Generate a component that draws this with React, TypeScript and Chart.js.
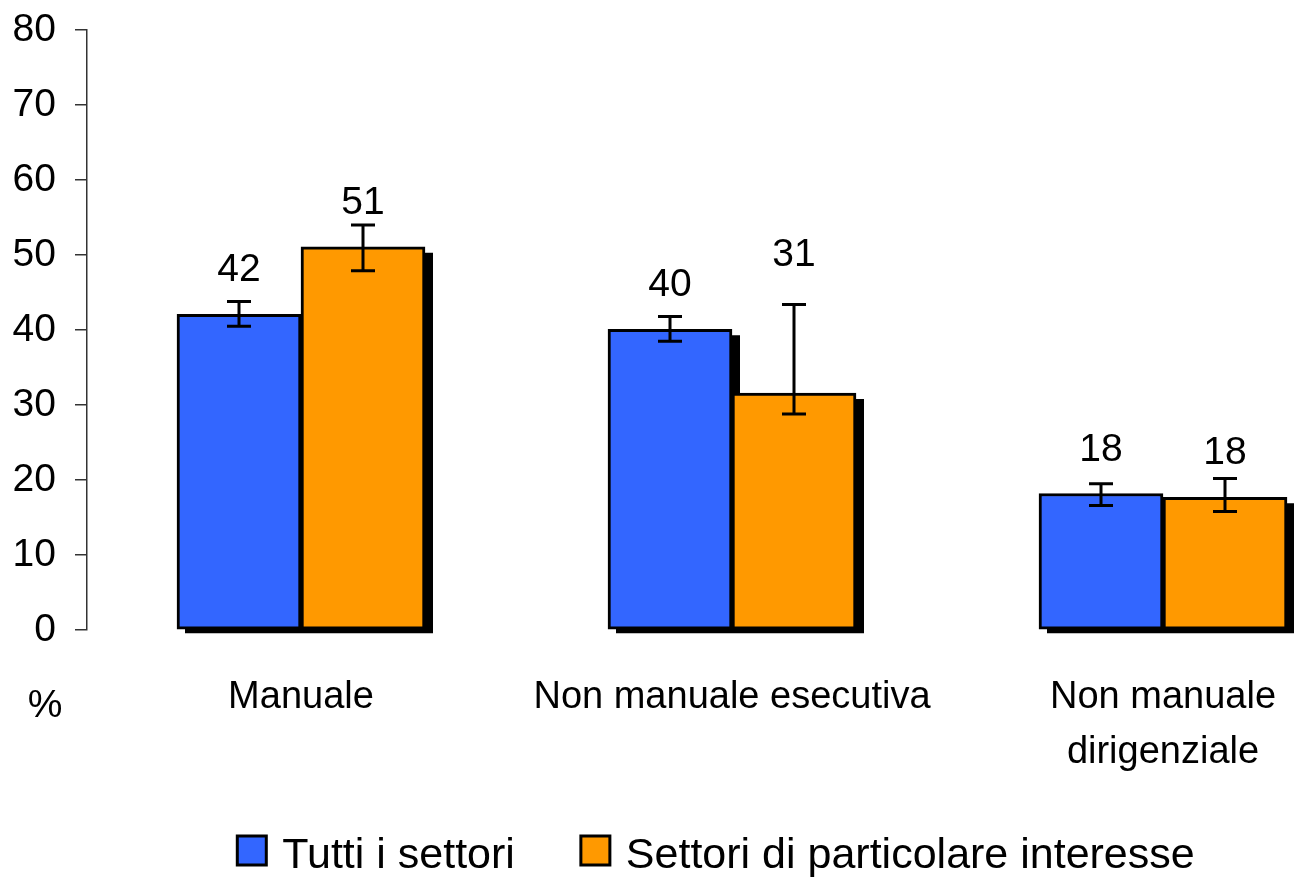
import React, { useEffect, useRef } from "react";
import { Chart, registerables } from "chart.js";

Chart.register(...registerables);

// ---------- data ----------
const categories: string[][] = [["Manuale"], ["Non manuale esecutiva"], ["Non manuale", "dirigenziale"]];
const seriesNames = ["Tutti i settori", "Settori di particolare interesse"];
const seriesColors = ["#3366FF", "#FF9900"];
const tuttiValues = [42.1, 40.1, 18.2];
const settoriValues = [51.1, 31.6, 17.7];
const tuttiLow = [40.5, 38.5, 16.6];
const tuttiHigh = [43.8, 41.8, 19.5];
const settoriLow = [47.9, 28.8, 15.8];
const settoriHigh = [54.0, 43.4, 20.2];
const tuttiLabels = ["42", "40", "18"];
const settoriLabels = ["51", "31", "18"];
const yTickValues = [0, 10, 20, 30, 40, 50, 60, 70, 80];
const yUnit = "%";

const FONT = "'Liberation Sans', Arial, sans-serif";

export default function App() {
  const ref = useRef<HTMLCanvasElement | null>(null);

  useEffect(() => {
    if (!ref.current) return;
    const lows = [tuttiLow, settoriLow];
    const highs = [tuttiHigh, settoriHigh];
    const labels = [tuttiLabels, settoriLabels];

    const shadowPlugin = {
      id: "shadows",
      beforeDatasetsDraw(chart: any) {
        const ctx = chart.ctx;
        ctx.save();
        ctx.fillStyle = "#000";
        chart.data.datasets.forEach((_d: any, di: number) => {
          const meta = chart.getDatasetMeta(di);
          meta.data.forEach((bar: any) => {
            const p = bar.getProps(["x", "y", "base", "width"], true);
            const left = p.x - p.width / 2 + 8;
            const top = p.y + 6;
            ctx.fillRect(left, top, p.width, p.base + 4 - top);
          });
        });
        ctx.restore();
      },
    };

    const errorPlugin = {
      id: "errorsAndLabels",
      afterDatasetsDraw(chart: any) {
        const ctx = chart.ctx;
        const yScale = chart.scales.y;
        ctx.save();
        chart.data.datasets.forEach((_d: any, di: number) => {
          const meta = chart.getDatasetMeta(di);
          meta.data.forEach((bar: any, i: number) => {
            const p = bar.getProps(["x", "y", "base", "width"], true);
            const yLo = yScale.getPixelForValue(lows[di][i]);
            const yHi = yScale.getPixelForValue(highs[di][i]);
            ctx.strokeStyle = "#000";
            ctx.lineWidth = 3;
            ctx.beginPath();
            ctx.moveTo(p.x, yLo);
            ctx.lineTo(p.x, yHi);
            ctx.moveTo(p.x - 12, yLo);
            ctx.lineTo(p.x + 12, yLo);
            ctx.moveTo(p.x - 12, yHi);
            ctx.lineTo(p.x + 12, yHi);
            ctx.stroke();
            let baseline = p.y - 33;
            if (baseline > yHi - 5) baseline = yHi - 39;
            ctx.fillStyle = "#000";
            ctx.font = `39px ${FONT}`;
            ctx.textAlign = "center";
            ctx.textBaseline = "alphabetic";
            ctx.fillText(labels[di][i], p.x, baseline);
          });
        });
        ctx.restore();
      },
    };

    const legendPlugin = {
      id: "customLegend",
      afterDraw(chart: any) {
        const ctx = chart.ctx;
        ctx.save();
        // unit label
        ctx.fillStyle = "#000";
        ctx.font = `39px ${FONT}`;
        ctx.textAlign = "center";
        ctx.textBaseline = "alphabetic";
        ctx.fillText(yUnit, 45, 717);
        // legend
        ctx.font = `43px ${FONT}`;
        const box = 29;
        const textGap = 45;
        const itemGap = 66;
        const widths = seriesNames.map((n) => ctx.measureText(n).width);
        const total = widths.reduce((a, w) => a + textGap + w, 0) + itemGap * (seriesNames.length - 1);
        let x = 716 - total / 2;
        const boxTop = 836;
        seriesNames.forEach((name, i) => {
          ctx.fillStyle = seriesColors[i];
          ctx.fillRect(x, boxTop, box, box);
          ctx.strokeStyle = "#000";
          ctx.lineWidth = 3;
          ctx.strokeRect(x, boxTop, box, box);
          ctx.fillStyle = "#000";
          ctx.textAlign = "left";
          ctx.fillText(name, x + textGap, 868);
          x += textGap + widths[i] + itemGap;
        });
        ctx.restore();
      },
    };

    const xMin = -214 / 431;
    const xMax = (1294 - 301) / 431;

    const chart = new Chart(ref.current, {
      type: "bar",
      data: {
        datasets: [
          {
            label: seriesNames[0],
            data: tuttiValues.map((v, i) => ({ x: i, y: v })),
            backgroundColor: seriesColors[0],
            borderColor: "#000",
            borderWidth: 3,
            borderSkipped: false,
            barThickness: 124,
          },
          {
            label: seriesNames[1],
            data: settoriValues.map((v, i) => ({ x: i, y: v })),
            backgroundColor: seriesColors[1],
            borderColor: "#000",
            borderWidth: 3,
            borderSkipped: false,
            barThickness: 124,
          },
        ],
      },
      options: {
        responsive: false,
        animation: false,
        layout: { padding: { top: 30, left: 0, right: 0, bottom: 0 } },
        plugins: { legend: { display: false }, tooltip: { enabled: false } },
        scales: {
          x: {
            type: "linear",
            offset: false,
            bounds: "data",
            min: xMin,
            max: xMax,
            grid: { display: false, drawTicks: false },
            border: { display: false },
            afterBuildTicks: (s: any) => {
              s.ticks = categories.map((_c, i) => ({ value: i }));
              s.min = xMin;
              s.max = xMax;
            },
            afterFit: (s: any) => {
              s.height = 248;
              s.paddingLeft = 0;
              s.paddingRight = 0;
              s.paddingTop = 0;
              s.paddingBottom = 0;
            },
            ticks: {
              autoSkip: false,
              maxRotation: 0,
              padding: 40,
              color: "#000",
              font: { family: FONT, size: 38, lineHeight: 55 / 38 },
              callback: (v: any) => {
                const n = Math.round(Number(v));
                return n >= 0 && n < categories.length ? categories[n] : "";
              },
            },
          },
          y: {
            min: 0,
            max: 80,
            afterFit: (s: any) => {
              s.width = 87;
              s.paddingTop = 0;
              s.paddingBottom = 0;
              s.paddingLeft = 0;
              s.paddingRight = 0;
            },
            afterBuildTicks: (s: any) => {
              s.ticks = yTickValues.map((v) => ({ value: v }));
            },
            grid: { drawOnChartArea: false, drawTicks: true, tickLength: 12, color: "#333", lineWidth: 1.5 },
            border: { display: true, color: "#333", width: 1.5 },
            ticks: {
              padding: 19,
              color: "#000",
              font: { family: FONT, size: 39 },
            },
          },
        },
      },
      plugins: [shadowPlugin, errorPlugin, legendPlugin],
    } as any);

    return () => chart.destroy();
  }, []);

  return (
    <div style={{ position: "fixed", left: 0, top: 0, width: 1294, height: 878, background: "#fff" }}>
      <canvas ref={ref} width={1294} height={878} style={{ display: "block" }} />
    </div>
  );
}
